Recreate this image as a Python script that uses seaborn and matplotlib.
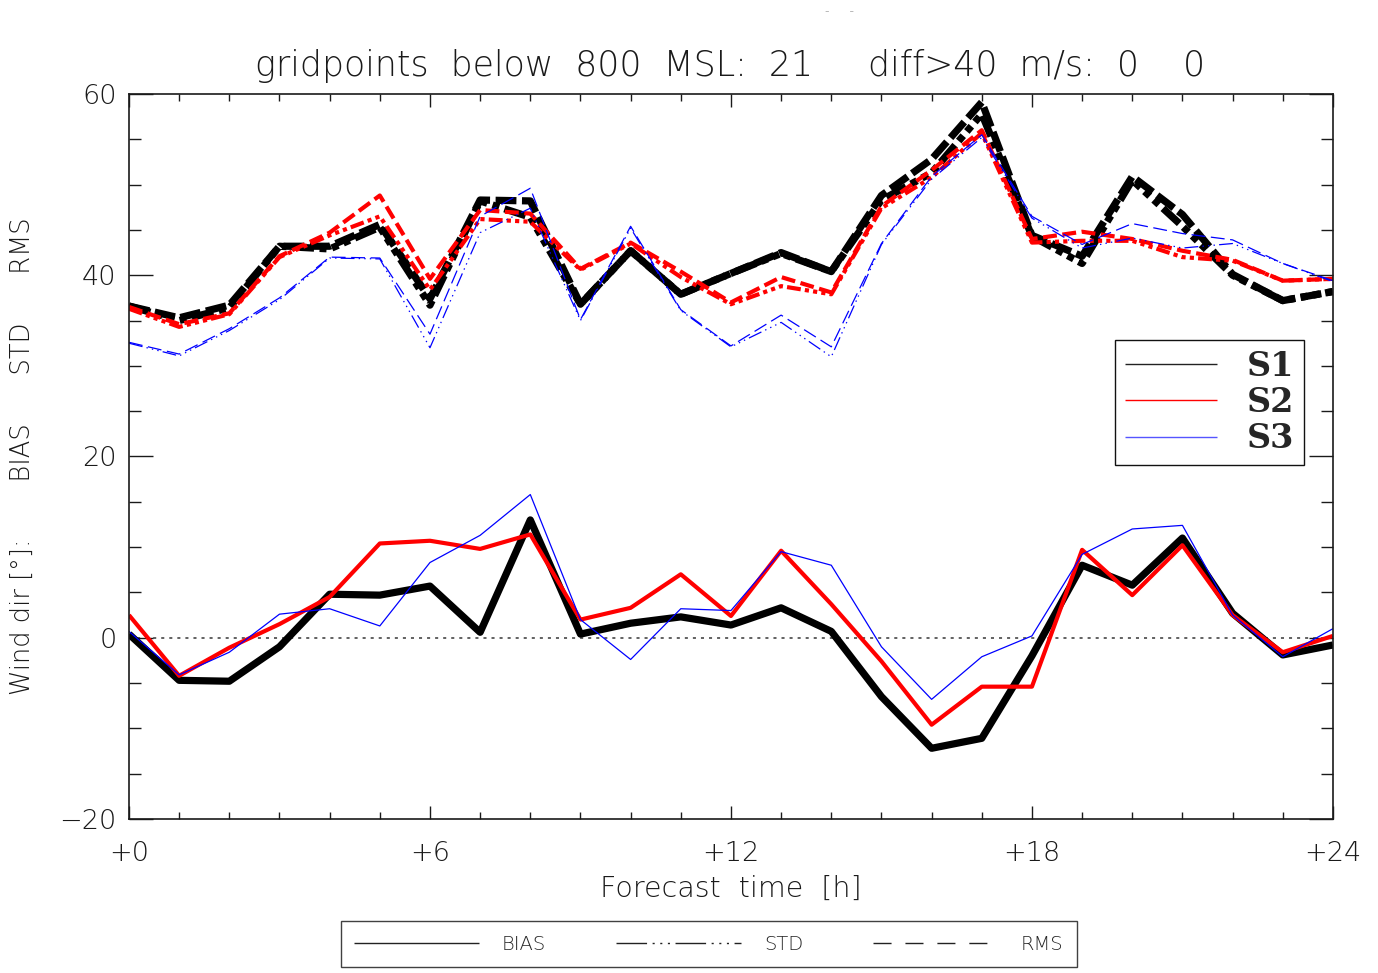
import numpy as np
import pandas as pd
import matplotlib
matplotlib.use("Agg")
import matplotlib.pyplot as plt
import seaborn as sns
from matplotlib.lines import Line2D
from matplotlib.ticker import MultipleLocator, FixedLocator

# ---- data: wind direction verification scores per forecast hour ----
hours = [0, 1, 2, 3, 4, 5, 6, 7, 8, 9, 10, 11, 12,
         13, 14, 15, 16, 17, 18, 19, 20, 21, 22, 23, 24]
models = ["S1", "S2", "S3"]

s1_bias = [0.4, -4.7, -4.8, -1.0, 4.8, 4.7, 5.7, 0.6, 13.0, 0.4, 1.6, 2.3, 1.4,
           3.3, 0.7, -6.5, -12.2, -11.1, -2.0, 8.0, 5.8, 11.0, 2.7, -1.9, -0.8]
s2_bias = [2.5, -4.2, -1.1, 1.5, 4.5, 10.4, 10.7, 9.8, 11.4, 2.0, 3.3, 7.0, 2.4,
           9.6, 3.7, -2.6, -9.6, -5.4, -5.4, 9.7, 4.7, 10.2, 2.5, -1.6, 0.2]
s3_bias = [0.7, -4.1, -1.6, 2.6, 3.2, 1.3, 8.3, 11.3, 15.8, 2.0, -2.4, 3.2, 3.0,
           9.5, 8.0, -1.0, -6.8, -2.1, 0.2, 9.2, 12.0, 12.4, 2.5, -2.1, 1.0]

s1_std = [36.6, 35.0, 36.4, 43.2, 42.9, 45.3, 36.7, 48.2, 46.4, 36.8, 42.7, 37.9, 40.2,
          42.4, 40.4, 48.3, 51.3, 57.8, 44.3, 41.3, 50.5, 45.4, 40.0, 37.2, 38.2]
s1_rms = [36.6, 35.3, 36.7, 43.2, 43.2, 45.6, 37.4, 48.3, 48.2, 36.8, 42.7, 37.9, 40.2,
          42.5, 40.4, 48.8, 52.8, 59.1, 44.4, 42.1, 50.9, 46.7, 40.1, 37.2, 38.2]

s2_std = [36.3, 34.3, 35.7, 42.0, 44.4, 46.5, 38.4, 46.2, 45.9, 40.6, 43.5, 39.8, 36.8,
          38.8, 37.9, 47.4, 50.8, 55.7, 43.6, 43.8, 43.8, 42.0, 41.6, 39.4, 39.6]
s2_rms = [36.5, 34.6, 35.8, 42.1, 44.7, 48.8, 39.6, 47.2, 46.8, 40.7, 43.6, 40.4, 37.0,
          39.8, 38.1, 47.6, 51.6, 56.0, 44.0, 44.8, 44.0, 42.7, 41.7, 39.4, 39.6]

s3_std = [32.5, 31.1, 33.9, 37.3, 41.9, 41.8, 32.0, 44.7, 47.4, 35.0, 45.2, 36.1, 32.1,
          34.8, 31.0, 43.4, 50.6, 55.2, 46.3, 43.0, 44.1, 43.0, 43.5, 41.3, 39.3]
s3_rms = [32.6, 31.3, 34.1, 37.5, 42.0, 41.9, 33.5, 46.5, 49.6, 35.1, 45.4, 36.2, 32.2,
          35.6, 32.1, 43.5, 50.9, 55.5, 46.5, 43.4, 45.7, 44.6, 43.9, 41.3, 39.4]

x_tick_values = [0, 6, 12, 18, 24]
x_tick_labels = ["+0", "+6", "+12", "+18", "+24"]
y_tick_values = [-20, 0, 20, 40, 60]
y_tick_labels = ["\u221220", "0", "20", "40", "60"]

scores = {
    "S1": {"BIAS": s1_bias, "STD": s1_std, "RMS": s1_rms},
    "S2": {"BIAS": s2_bias, "STD": s2_std, "RMS": s2_rms},
    "S3": {"BIAS": s3_bias, "STD": s3_std, "RMS": s3_rms},
}
records = []
for m in models:
    for metric, vals in scores[m].items():
        for h, v in zip(hours, vals):
            records.append({"hour": h, "value": v, "model": m, "metric": metric})
df = pd.DataFrame(records)

# ---- styling ----
sns.set_style("ticks")
plt.rcParams["font.family"] = ["DejaVu Sans"]
plt.rcParams["font.weight"] = "light"
plt.rcParams["lines.scale_dashes"] = False
plt.rcParams["lines.solid_capstyle"] = "butt"
plt.rcParams["lines.dash_capstyle"] = "butt"
ink = "#1a1a1a"

colors = {"S1": "#000000", "S2": "#ff0000", "S3": "#0000ff"}
widths = {"S1": 5.2, "S2": 3.0, "S3": 0.9}
dash_sets = {
    "S1": {"BIAS": "", "STD": (16, 4, 5, 4, 5, 4, 5, 4), "RMS": (15, 4)},
    "S2": {"BIAS": "", "STD": (10, 3, 3, 3, 3, 3, 3, 3), "RMS": (10, 4)},
    "S3": {"BIAS": "", "STD": (10, 3, 1, 3, 1, 3, 1, 3), "RMS": (10, 4)},
}

fig = plt.figure(figsize=(13.78, 9.73), dpi=100)
ax = fig.add_axes([0.0936, 0.1583, 0.8737, 0.7451])

for m in models:
    sns.lineplot(data=df[df["model"] == m], x="hour", y="value",
                 style="metric", style_order=["BIAS", "STD", "RMS"],
                 dashes=dash_sets[m], color=colors[m], linewidth=widths[m],
                 estimator=None, legend=False, ax=ax)

ax.axhline(0, color="#555555", lw=1.3, ls=(0, (2.2, 3.6)), zorder=0)

ax.set_xlim(0, 24)
ax.set_ylim(-20, 60)
ax.xaxis.set_major_locator(FixedLocator(x_tick_values))
ax.set_xticklabels(x_tick_labels)
ax.xaxis.set_minor_locator(MultipleLocator(1))
ax.yaxis.set_major_locator(FixedLocator(y_tick_values))
ax.set_yticklabels(y_tick_labels)
ax.yaxis.set_minor_locator(MultipleLocator(5))
ax.tick_params(axis="x", which="major", direction="in", length=9.5, width=1,
               top=True, bottom=True, labelsize=19.5, pad=16, colors=ink)
ax.tick_params(axis="x", which="minor", direction="in", length=5, width=1,
               top=True, bottom=True, colors=ink)
ax.tick_params(axis="y", which="major", direction="in", length=17, width=1,
               left=True, right=True, labelsize=19.5, pad=9, colors=ink)
ax.tick_params(axis="y", which="minor", direction="in", length=8.6, width=1,
               left=True, right=True, colors=ink)
for sp in ax.spines.values():
    sp.set_visible(True)
    sp.set_color(ink)
    sp.set_linewidth(1.2)
ax.set_xlabel("")
ax.set_ylabel("")

fig.text(0.530, 0.932, "gridpoints  below  800  MSL:  21     diff>40  m/s:  0    0",
         ha="center", va="center", fontsize=25, color=ink)
fig.text(0.530, 0.087, "Forecast  time  [h]", ha="center", va="center",
         fontsize=20.5, color=ink)
fig.text(0.016, 0.531, "Wind dir [\u00b0]:       BIAS      STD      RMS",
         rotation=90, ha="center", va="center", fontsize=18.5, color=ink)
fig.text(0.609, 0.989, "-     -", ha="center", va="center", fontsize=9,
         color="#777777")

# model legend inside the axes
model_handles = [Line2D([], [], color="#222222", lw=1),
                 Line2D([], [], color="#ff0000", lw=1),
                 Line2D([], [], color="#5555ff", lw=1)]
leg1 = ax.legend(model_handles, models, loc="upper left",
                 bbox_to_anchor=(0.819, 0.661), borderaxespad=0,
                 prop={"family": "DejaVu Serif", "weight": "bold", "size": 24},
                 frameon=True, fancybox=False, edgecolor="#111111",
                 handlelength=2.75, handletextpad=0.9, labelspacing=0.1,
                 borderpad=0.3)
leg1.get_frame().set_linewidth(1.0)
leg1.get_frame().set_alpha(1)

# metric legend below the plot
metric_handles = [Line2D([], [], color="#222222", lw=1, ls="-"),
                  Line2D([], [], color="#222222", lw=1,
                         ls=(0, (22, 4, 1.5, 4, 1.5, 4, 1.5, 4))),
                  Line2D([], [], color="#222222", lw=1, ls=(0, (13, 10)))]
leg2 = fig.legend(metric_handles, ["BIAS", "STD", "RMS"], loc="lower center",
                  bbox_to_anchor=(0.5145, -0.004), ncol=3, fontsize=14,
                  frameon=True, fancybox=False, edgecolor="#111111",
                  handlelength=6.4, handletextpad=1.2, columnspacing=3.6,
                  borderpad=0.7)
leg2.get_frame().set_linewidth(1.0)

fig.savefig("out.png", dpi=100)
